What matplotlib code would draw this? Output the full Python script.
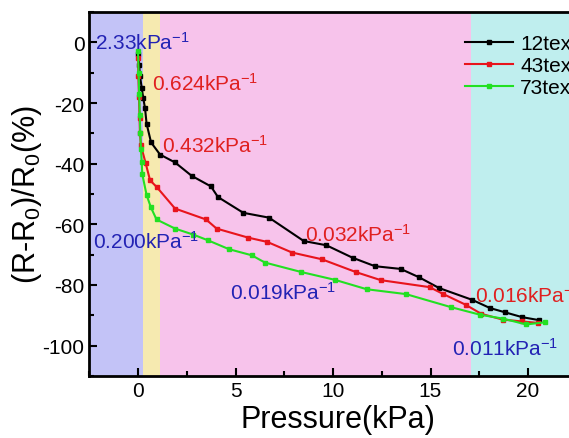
import matplotlib
matplotlib.use("Agg")
import matplotlib.pyplot as plt
from matplotlib.ticker import MultipleLocator

plt.rcParams['font.family'] = ['Liberation Sans', 'DejaVu Sans']
plt.rcParams['mathtext.fontset'] = 'custom'
plt.rcParams['mathtext.rm'] = 'Liberation Sans'
plt.rcParams['mathtext.it'] = 'Liberation Sans:italic'
plt.rcParams['mathtext.bf'] = 'Liberation Sans:bold'
plt.rcParams['axes.unicode_minus'] = False

# ---- data ----
x_12 = [0.02, 0.06, 0.10, 0.19, 0.27, 0.36, 0.44, 0.67, 1.13, 1.9, 2.75, 3.74, 4.1, 5.4, 6.72,
        8.5, 9.66, 11.0, 12.15, 13.47, 14.43, 15.44, 17.14, 18.05, 18.82, 19.7, 20.58]
y_12 = [-4, -7.5, -11, -15, -18.4, -21.7, -26.8, -33, -37, -39.6, -44, -47.5, -51, -56.2, -57.8,
        -65.5, -66.9, -71, -73.8, -74.7, -77.5, -81, -84.9, -87.6, -89, -90.6, -91.6]

x_43 = [0.0, 0.02, 0.05, 0.08, 0.10, 0.15, 0.39, 0.62, 0.96, 1.9, 3.49, 4.03, 5.66, 6.63, 7.9,
        9.42, 11.2, 12.45, 14.95, 15.66, 16.8, 17.6, 18.7, 19.67, 20.5]
y_43 = [-5, -11, -18, -25, -30, -34, -39.8, -45.5, -47.7, -54.8, -58.4, -61.4, -64.4, -65.8, -69.3,
        -71.5, -75.8, -78.4, -80.7, -83, -86.5, -89.5, -91.4, -92, -92.5]

x_73 = [0.0, 0.03, 0.06, 0.09, 0.12, 0.15, 0.19, 0.22, 0.44, 0.66, 0.95, 1.9, 2.84, 3.6, 4.67,
        5.83, 6.51, 8.36, 10.1, 11.73, 13.74, 16.05, 17.54, 18.73, 19.9, 20.87]
y_73 = [-3, -10, -17, -24, -30, -35, -39.6, -43.5, -50.3, -54.4, -58.4, -61.4, -63.4, -65.3, -68.2,
        -70.2, -72.6, -75.7, -78.3, -81.4, -83, -87.3, -89.8, -91.1, -93, -92.3]

series_labels = ['12tex', '43tex', '73tex']
series_colors = ['#000000', '#e8141c', '#22e022']

region_edges = [-2.5, 0.26, 1.13, 17.1, 23.0]
region_colors = ['#c3c3f7', '#f6eab0', '#f7c3eb', '#bfeeee']

ann_texts = ['2.33kPa$^{-1}$', '0.624kPa$^{-1}$', '0.432kPa$^{-1}$', '0.200kPa$^{-1}$',
             '0.032kPa$^{-1}$', '0.019kPa$^{-1}$', '0.016kPa$^{-1}$', '0.011kPa$^{-1}$']
ann_x = [-2.2, 0.72, 1.23, -2.3, 8.56, 4.72, 17.3, 16.1]
ann_y = [0, -13.4, -33.7, -65.4, -63.1, -82.4, -83.3, -100.7]
ann_colors = ['#2323b4', '#e02020', '#e02020', '#2323b4', '#e02020', '#2323b4', '#e02020', '#2323b4']

# ---- figure ----
W, H = 569, 439
fig = plt.figure(figsize=(W / 100, H / 100), dpi=100)
left_px, right_px, top_px, bot_px = 89.25, 586.5, 13, 377
ax = fig.add_axes([left_px / W, (H - bot_px) / H, (right_px - left_px) / W, (bot_px - top_px) / H])

for i in range(len(region_colors)):
    ax.axvspan(region_edges[i], region_edges[i + 1], color=region_colors[i], lw=0, zorder=0)

for xs, ys, lab, col in zip([x_12, x_43, x_73], [y_12, y_43, y_73], series_labels, series_colors):
    ax.plot(xs, ys, color=col, lw=1.5, marker='s', ms=3, label=lab, zorder=3)

for t, xx, yy, c in zip(ann_texts, ann_x, ann_y, ann_colors):
    ax.text(xx, yy, t, color=c, fontsize=15, ha='left', va='center', zorder=4)

ax.set_xlim(-2.5, 23)
ax.set_ylim(-110, 10)
ax.xaxis.set_major_locator(MultipleLocator(5))
ax.xaxis.set_minor_locator(MultipleLocator(2.5))
ax.yaxis.set_major_locator(MultipleLocator(20))
ax.yaxis.set_minor_locator(MultipleLocator(10))
ax.tick_params(which='both', direction='in', width=1.5, labelsize=15, top=False, right=False)
ax.tick_params(which='major', length=6)
ax.tick_params(which='minor', length=3.5)
for s in ax.spines.values():
    s.set_linewidth(2)

ax.set_xlabel('Pressure(kPa)', fontsize=22, labelpad=3)
ax.set_ylabel('(R-R$_0$)/R$_0$(%)', fontsize=22)
ax.yaxis.set_label_coords(-0.09, 0.5)

ax.legend(loc='upper left', bbox_to_anchor=(465 / W, (H - 35) / H), bbox_transform=fig.transFigure,
          frameon=False, fontsize=15, borderpad=0, handlelength=2.3, handletextpad=0.35,
          labelspacing=0.15, borderaxespad=0)

fig.savefig('out.png', dpi=100)
